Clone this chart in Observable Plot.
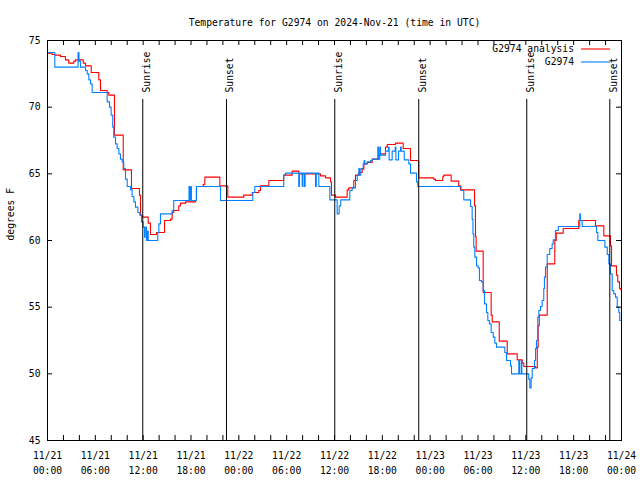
<!DOCTYPE html>
<html><head><meta charset="utf-8">
<script src="https://cdn.jsdelivr.net/npm/d3@7"></script>
<script src="https://cdn.jsdelivr.net/npm/@observablehq/plot@0.6"></script>
<style>body{margin:0;background:#fff}</style>
</head><body><div id="chart"></div>
<script>
const title = "Temperature for G2974 on 2024-Nov-21 (time in UTC)";
const yLabel = "degrees F";
const seriesNames = ["G2974 analysis", "G2974"];
const seriesColors = ["#ff0000", "#0080ff"];
const xDomain = ["2024-11-21T00:00Z", "2024-11-24T00:00Z"];
const yDomain = [45, 75];
const yTicks = [45, 50, 55, 60, 65, 70, 75];
const xTicks = ["2024-11-21T00:00Z","2024-11-21T06:00Z","2024-11-21T12:00Z","2024-11-21T18:00Z",
  "2024-11-22T00:00Z","2024-11-22T06:00Z","2024-11-22T12:00Z","2024-11-22T18:00Z",
  "2024-11-23T00:00Z","2024-11-23T06:00Z","2024-11-23T12:00Z","2024-11-23T18:00Z","2024-11-24T00:00Z"];
const xTickLabels = ["11/21\n00:00","11/21\n06:00","11/21\n12:00","11/21\n18:00",
  "11/22\n00:00","11/22\n06:00","11/22\n12:00","11/22\n18:00",
  "11/23\n00:00","11/23\n06:00","11/23\n12:00","11/23\n18:00","11/24\n00:00"];

const sunTime = ["2024-11-21T11:57Z","2024-11-21T22:27Z","2024-11-22T12:02Z","2024-11-22T22:34Z","2024-11-23T12:07Z","2024-11-23T22:32Z"];
const sunLabel = ["Sunrise","Sunset","Sunrise","Sunset","Sunrise","Sunset"];

const redTime = ["2024-11-21T00:00Z","2024-11-21T00:35Z","2024-11-21T01:00Z","2024-11-21T01:38Z","2024-11-21T02:15Z","2024-11-21T02:40Z","2024-11-21T03:06Z","2024-11-21T03:18Z","2024-11-21T03:31Z","2024-11-21T04:21Z","2024-11-21T04:29Z","2024-11-21T04:46Z","2024-11-21T05:29Z","2024-11-21T06:26Z","2024-11-21T06:39Z","2024-11-21T07:29Z","2024-11-21T07:41Z","2024-11-21T08:24Z","2024-11-21T09:30Z","2024-11-21T10:32Z","2024-11-21T11:32Z","2024-11-21T11:40Z","2024-11-21T11:53Z","2024-11-21T12:38Z","2024-11-21T12:55Z","2024-11-21T13:40Z","2024-11-21T14:41Z","2024-11-21T15:26Z","2024-11-21T15:38Z","2024-11-21T15:50Z","2024-11-21T16:28Z","2024-11-21T16:41Z","2024-11-21T17:19Z","2024-11-21T18:34Z","2024-11-21T18:41Z","2024-11-21T19:32Z","2024-11-21T19:44Z","2024-11-21T21:37Z","2024-11-21T22:37Z","2024-11-22T00:37Z","2024-11-22T01:41Z","2024-11-22T02:30Z","2024-11-22T02:43Z","2024-11-22T03:46Z","2024-11-22T05:38Z","2024-11-22T06:41Z","2024-11-22T07:31Z","2024-11-22T10:14Z","2024-11-22T10:52Z","2024-11-22T11:30Z","2024-11-22T11:37Z","2024-11-22T12:08Z","2024-11-22T13:35Z","2024-11-22T13:47Z","2024-11-22T14:25Z","2024-11-22T14:38Z","2024-11-22T15:03Z","2024-11-22T15:28Z","2024-11-22T15:41Z","2024-11-22T16:06Z","2024-11-22T16:44Z","2024-11-22T17:33Z","2024-11-22T17:46Z","2024-11-22T18:24Z","2024-11-22T18:37Z","2024-11-22T19:39Z","2024-11-22T20:37Z","2024-11-22T21:32Z","2024-11-22T22:34Z","2024-11-23T00:27Z","2024-11-23T00:40Z","2024-11-23T01:35Z","2024-11-23T01:42Z","2024-11-23T02:38Z","2024-11-23T03:35Z","2024-11-23T03:48Z","2024-11-23T05:34Z","2024-11-23T05:41Z","2024-11-23T05:46Z","2024-11-23T06:39Z","2024-11-23T07:39Z","2024-11-23T07:47Z","2024-11-23T08:40Z","2024-11-23T09:40Z","2024-11-23T10:55Z","2024-11-23T11:33Z","2024-11-23T11:45Z","2024-11-23T13:13Z","2024-11-23T13:26Z","2024-11-23T13:33Z","2024-11-23T13:41Z","2024-11-23T14:41Z","2024-11-23T15:38Z","2024-11-23T15:49Z","2024-11-23T16:41Z","2024-11-23T18:38Z","2024-11-23T20:44Z","2024-11-23T21:47Z","2024-11-23T22:37Z","2024-11-23T22:45Z","2024-11-23T23:22Z","2024-11-23T23:32Z","2024-11-23T23:45Z","2024-11-23T23:55Z"];
const redTemp = [74.05,73.95,73.9,73.8,73.55,73.3,73.3,73.45,73.55,73.55,73.3,73.1,72.6,72.05,71.25,71.1,70.9,67.9,65.3,63.9,63.4,61.9,61.75,61.3,60.45,60.6,61.5,61.6,62.1,62.25,62.6,62.8,62.9,63.0,64.05,64.2,64.75,64.1,63.25,63.4,63.6,63.75,64.1,64.5,64.9,65.2,65.0,64.85,64.7,64.4,63.4,63.25,63.8,63.95,64.5,64.9,65.1,65.35,65.75,65.85,66.1,66.4,66.5,67.0,67.2,67.3,66.9,66.0,64.7,64.6,64.5,64.8,64.9,64.45,64.1,63.8,62.6,60.3,59.2,56.1,54.4,53.9,52.45,51.5,51.05,50.8,50.55,50.45,52.0,53.6,54.4,58.25,60.0,60.55,60.9,61.5,61.1,60.35,59.6,58.1,57.4,56.9,56.4,56.3];

const blueTime = ["2024-11-21T00:00Z","2024-11-21T00:55Z","2024-11-21T03:50Z","2024-11-21T03:57Z","2024-11-21T04:08Z","2024-11-21T04:46Z","2024-11-21T04:59Z","2024-11-21T05:11Z","2024-11-21T05:24Z","2024-11-21T05:36Z","2024-11-21T07:29Z","2024-11-21T07:47Z","2024-11-21T07:59Z","2024-11-21T08:11Z","2024-11-21T08:19Z","2024-11-21T08:32Z","2024-11-21T08:44Z","2024-11-21T08:57Z","2024-11-21T09:09Z","2024-11-21T09:22Z","2024-11-21T09:34Z","2024-11-21T09:47Z","2024-11-21T10:00Z","2024-11-21T10:25Z","2024-11-21T10:37Z","2024-11-21T10:50Z","2024-11-21T11:02Z","2024-11-21T11:20Z","2024-11-21T11:35Z","2024-11-21T11:47Z","2024-11-21T12:00Z","2024-11-21T12:10Z","2024-11-21T12:15Z","2024-11-21T12:25Z","2024-11-21T12:33Z","2024-11-21T12:38Z","2024-11-21T13:50Z","2024-11-21T13:58Z","2024-11-21T14:10Z","2024-11-21T15:38Z","2024-11-21T15:50Z","2024-11-21T17:45Z","2024-11-21T17:50Z","2024-11-21T17:58Z","2024-11-21T18:03Z","2024-11-21T18:41Z","2024-11-21T21:42Z","2024-11-22T01:45Z","2024-11-22T02:00Z","2024-11-22T05:38Z","2024-11-22T05:51Z","2024-11-22T07:31Z","2024-11-22T07:36Z","2024-11-22T07:57Z","2024-11-22T08:02Z","2024-11-22T08:14Z","2024-11-22T08:19Z","2024-11-22T09:37Z","2024-11-22T09:43Z","2024-11-22T10:02Z","2024-11-22T11:25Z","2024-11-22T12:20Z","2024-11-22T12:35Z","2024-11-22T12:47Z","2024-11-22T13:55Z","2024-11-22T14:13Z","2024-11-22T14:38Z","2024-11-22T14:51Z","2024-11-22T15:03Z","2024-11-22T15:08Z","2024-11-22T15:18Z","2024-11-22T15:36Z","2024-11-22T15:43Z","2024-11-22T15:48Z","2024-11-22T16:06Z","2024-11-22T16:31Z","2024-11-22T16:44Z","2024-11-22T17:26Z","2024-11-22T17:31Z","2024-11-22T17:41Z","2024-11-22T17:46Z","2024-11-22T18:24Z","2024-11-22T18:46Z","2024-11-22T18:51Z","2024-11-22T19:14Z","2024-11-22T19:37Z","2024-11-22T19:42Z","2024-11-22T20:02Z","2024-11-22T20:17Z","2024-11-22T20:22Z","2024-11-22T20:45Z","2024-11-22T21:19Z","2024-11-22T21:32Z","2024-11-22T22:17Z","2024-11-22T22:27Z","2024-11-23T03:53Z","2024-11-23T04:13Z","2024-11-23T05:04Z","2024-11-23T05:16Z","2024-11-23T05:22Z","2024-11-23T05:28Z","2024-11-23T05:36Z","2024-11-23T05:49Z","2024-11-23T06:01Z","2024-11-23T06:11Z","2024-11-23T06:26Z","2024-11-23T06:39Z","2024-11-23T06:49Z","2024-11-23T07:04Z","2024-11-23T07:14Z","2024-11-23T07:26Z","2024-11-23T07:39Z","2024-11-23T07:55Z","2024-11-23T08:07Z","2024-11-23T08:19Z","2024-11-23T09:22Z","2024-11-23T09:35Z","2024-11-23T10:05Z","2024-11-23T10:12Z","2024-11-23T11:07Z","2024-11-23T11:12Z","2024-11-23T11:25Z","2024-11-23T11:30Z","2024-11-23T12:22Z","2024-11-23T12:30Z","2024-11-23T12:40Z","2024-11-23T12:48Z","2024-11-23T13:05Z","2024-11-23T13:13Z","2024-11-23T13:20Z","2024-11-23T13:30Z","2024-11-23T13:38Z","2024-11-23T13:50Z","2024-11-23T14:03Z","2024-11-23T14:15Z","2024-11-23T14:20Z","2024-11-23T14:28Z","2024-11-23T14:41Z","2024-11-23T15:00Z","2024-11-23T15:18Z","2024-11-23T15:26Z","2024-11-23T15:43Z","2024-11-23T16:04Z","2024-11-23T18:46Z","2024-11-23T18:51Z","2024-11-23T19:04Z","2024-11-23T20:52Z","2024-11-23T21:02Z","2024-11-23T21:55Z","2024-11-23T22:13Z","2024-11-23T22:25Z","2024-11-23T22:37Z","2024-11-23T22:50Z","2024-11-23T23:02Z","2024-11-23T23:15Z","2024-11-23T23:28Z","2024-11-23T23:40Z","2024-11-23T23:47Z","2024-11-23T23:55Z"];
const blueTemp = [74.1,73.0,74.1,73.45,73.0,72.75,72.5,72.05,71.75,71.1,70.4,70.0,69.4,68.5,67.75,67.25,66.9,66.5,66.1,65.9,65.4,64.6,64.05,63.8,63.3,62.9,62.5,62.1,61.9,61.4,61.0,60.25,61.0,60.0,60.7,60.0,60.6,61.25,62.0,62.25,63.0,64.05,63.0,64.05,63.0,64.05,63.0,63.6,64.05,64.9,65.05,64.05,65.05,64.05,65.05,64.05,65.05,64.05,65.05,64.05,63.05,62.0,62.6,63.05,63.75,63.95,64.5,64.9,65.4,64.9,65.4,65.75,66.0,65.75,65.9,66.0,66.1,67.0,66.1,67.0,66.4,66.7,67.0,66.05,66.7,67.0,66.05,66.7,67.0,66.7,66.05,65.75,65.05,64.4,64.05,63.75,63.05,62.55,61.6,60.5,59.5,58.75,58.1,57.95,57.0,56.9,56.25,55.25,54.6,54.0,53.75,53.1,52.75,52.3,52.0,51.6,51.0,50.6,50.0,51.0,50.0,51.0,50.0,49.6,48.95,49.7,50.4,51.0,51.9,52.5,54.25,54.75,55.05,55.5,56.4,57.25,58.0,58.95,59.4,59.75,60.05,60.75,61.05,62.0,61.5,61.05,60.6,60.0,59.5,58.95,58.25,57.5,56.25,56.0,55.75,55.0,54.6,54.0,54.0];

const parse = d3.isoParse;
const red = redTime.map((t, i) => ({time: parse(t), temp: redTemp[i]}));
const blue = blueTime.map((t, i) => ({time: parse(t), temp: blueTemp[i]}));
const sun = sunTime.map((t, i) => ({time: parse(t), label: sunLabel[i]}));
const xTickDates = xTicks.map(parse);
const minorTicks = d3.utcHour.every(2).range(parse(xDomain[0]), new Date(+parse(xDomain[1]) + 1));

const W = 640, H = 480, ML = 47, MR = 19, MT = 40, MB = 40;
const FW = W - ML - MR, FH = H - MT - MB, TICK = 5;

const chart = Plot.plot({
  width: W, height: H,
  marginLeft: ML, marginRight: MR, marginTop: MT, marginBottom: MB,
  style: {fontFamily: "'DejaVu Sans Mono', monospace", fontSize: "9.7px", background: "#fff", color: "#000"},
  x: {type: "utc", domain: xDomain.map(parse)},
  y: {domain: yDomain},
  marks: [
    Plot.line(red, {x: "time", y: "temp", stroke: seriesColors[0], strokeWidth: 1.1, curve: "step-after"}),
    Plot.line(blue, {x: "time", y: "temp", stroke: seriesColors[1], strokeWidth: 1.1, curve: "step-after"}),
    Plot.ruleX(sun, {x: "time", insetTop: 59, stroke: "#000", strokeWidth: 1}),
    Plot.text(sun, {x: "time", text: "label", frameAnchor: "top", dy: 52, rotate: -90, textAnchor: "start", dx: 0, fill: "#000"}),
    Plot.frame({stroke: "#000"}),
    Plot.tickX(minorTicks, {x: d => d, insetBottom: FH - TICK}),
    Plot.tickX(minorTicks, {x: d => d, insetTop: FH - TICK}),
    Plot.tickY(yTicks, {y: d => d, insetRight: FW - TICK}),
    Plot.tickY(yTicks, {y: d => d, insetLeft: FW - TICK}),
    Plot.axisX({ticks: xTickDates, tickSize: 0, tickPadding: 8, lineHeight: 1.55, label: null,
      tickFormat: d => xTickLabels[xTickDates.findIndex(t => +t === +d)]}),
    Plot.axisY({ticks: yTicks, tickSize: 0, tickPadding: 7, label: null}),
    Plot.text([yLabel], {frameAnchor: "left", dx: -37, rotate: -90, fill: "#000"}),
    Plot.text([title], {frameAnchor: "top", dy: -21, fill: "#000"})
  ]
});

const svg = d3.select(chart);
seriesNames.forEach((name, i) => {
  const y = MT + 9 + i * 13;
  const right = W - MR;
  svg.append("text").attr("x", right - 47).attr("y", y).attr("dy", "0.32em")
    .attr("text-anchor", "end").attr("fill", "#000").text(name);
  svg.append("line").attr("x1", right - 40).attr("x2", right - 11).attr("y1", y).attr("y2", y)
    .attr("stroke", seriesColors[i]).attr("stroke-width", 1.1);
});

document.getElementById("chart").appendChild(chart);
</script>
</body></html>
